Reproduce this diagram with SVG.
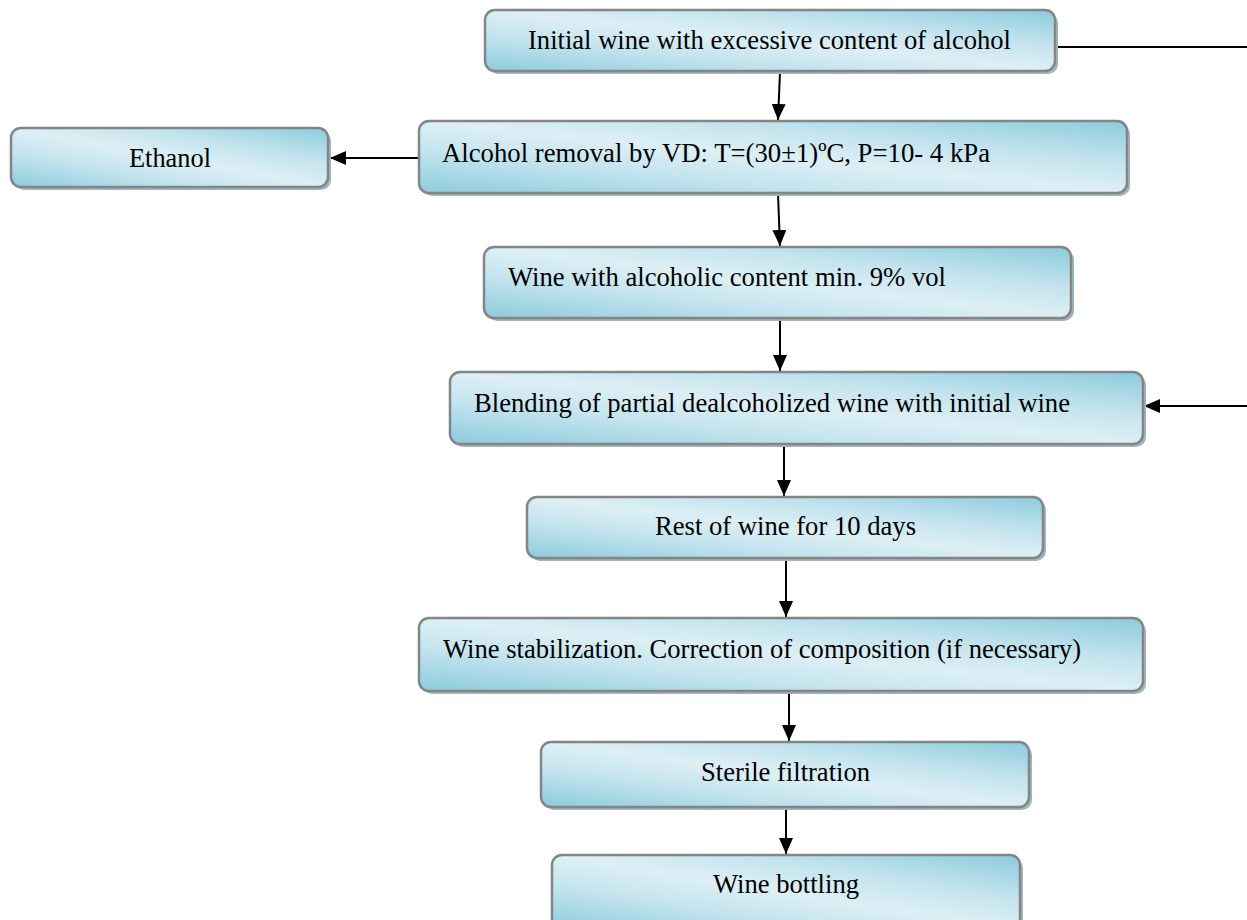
<svg xmlns="http://www.w3.org/2000/svg" width="1247" height="920" viewBox="0 0 1247 920">
<defs>
<linearGradient id="g" x1="1" y1="0" x2="0" y2="1">
<stop offset="0" stop-color="#8ccbdd"/>
<stop offset="0.3" stop-color="#c4e4ee"/>
<stop offset="0.5" stop-color="#ddeff5"/>
<stop offset="0.7" stop-color="#c4e4ee"/>
<stop offset="1" stop-color="#8ccbdd"/>
</linearGradient>
<marker id="ah" viewBox="0 0 16 14" refX="16" refY="7" markerWidth="16" markerHeight="14" markerUnits="userSpaceOnUse" orient="auto">
<path d="M0,0 L16,7 L0,14 Z" fill="#000"/>
</marker>
<style>
.sh{fill:#9db6c2;}
.bx{fill:url(#g);stroke:#858585;stroke-width:2.5;}
.t{font-family:"Liberation Serif","Times New Roman",serif;font-size:28px;fill:#000;}
.c{stroke:#000;stroke-width:2;fill:none;}
</style>
</defs>
<rect width="1247" height="920" fill="#fff"/>
<g id="connectors">
<line class="c" x1="1055" y1="47" x2="1247" y2="47"/>
<line class="c" x1="1247" y1="406" x2="1144" y2="406" marker-end="url(#ah)"/>
<line class="c" x1="780" y1="72" x2="778" y2="120" marker-end="url(#ah)"/>
<line class="c" x1="419" y1="158" x2="330" y2="158" marker-end="url(#ah)"/>
<line class="c" x1="778" y1="194" x2="780" y2="246" marker-end="url(#ah)"/>
<line class="c" x1="780" y1="319" x2="780" y2="371" marker-end="url(#ah)"/>
<line class="c" x1="784" y1="445" x2="784" y2="496" marker-end="url(#ah)"/>
<line class="c" x1="786" y1="559" x2="786" y2="617" marker-end="url(#ah)"/>
<line class="c" x1="789" y1="692" x2="789" y2="741" marker-end="url(#ah)"/>
<line class="c" x1="786" y1="808" x2="786" y2="854" marker-end="url(#ah)"/>
</g>
<g id="n1">
<rect class="sh" x="488" y="13" width="570" height="61" rx="10"/>
<rect class="bx" x="485" y="10" width="570" height="61" rx="10"/>
<text class="t" x="528" y="49" textLength="483" lengthAdjust="spacingAndGlyphs">Initial wine with excessive content of alcohol</text>
</g>
<g id="n2">
<rect class="sh" x="422" y="124" width="708" height="72" rx="10"/>
<rect class="bx" x="419" y="121" width="708" height="72" rx="10"/>
<text class="t" x="442" y="162" textLength="548" lengthAdjust="spacingAndGlyphs">Alcohol removal by VD: T=(30±1)ºC, P=10- 4 kPa</text>
</g>
<g id="n3">
<rect class="sh" x="14" y="131" width="317" height="59" rx="10"/>
<rect class="bx" x="11" y="128" width="317" height="59" rx="10"/>
<text class="t" x="129" y="167" textLength="82" lengthAdjust="spacingAndGlyphs">Ethanol</text>
</g>
<g id="n4">
<rect class="sh" x="487" y="250" width="587" height="71" rx="10"/>
<rect class="bx" x="484" y="247" width="587" height="71" rx="10"/>
<text class="t" x="508" y="286" textLength="438" lengthAdjust="spacingAndGlyphs">Wine with alcoholic content min. 9% vol</text>
</g>
<g id="n5">
<rect class="sh" x="453" y="375" width="693" height="72" rx="10"/>
<rect class="bx" x="450" y="372" width="693" height="72" rx="10"/>
<text class="t" x="474" y="412" textLength="596" lengthAdjust="spacingAndGlyphs">Blending of partial dealcoholized wine with initial wine</text>
</g>
<g id="n6">
<rect class="sh" x="530" y="500" width="516" height="61" rx="10"/>
<rect class="bx" x="527" y="497" width="516" height="61" rx="10"/>
<text class="t" x="655" y="535" textLength="261" lengthAdjust="spacingAndGlyphs">Rest of wine for 10 days</text>
</g>
<g id="n7">
<rect class="sh" x="422" y="621" width="724" height="73" rx="10"/>
<rect class="bx" x="419" y="618" width="724" height="73" rx="10"/>
<text class="t" x="443" y="658" textLength="638" lengthAdjust="spacingAndGlyphs">Wine stabilization. Correction of composition (if necessary)</text>
</g>
<g id="n8">
<rect class="sh" x="544" y="745" width="488" height="65" rx="10"/>
<rect class="bx" x="541" y="742" width="488" height="65" rx="10"/>
<text class="t" x="701" y="781" textLength="169" lengthAdjust="spacingAndGlyphs">Sterile filtration</text>
</g>
<g id="n9">
<rect class="sh" x="555" y="858" width="468" height="75" rx="10"/>
<rect class="bx" x="552" y="855" width="468" height="75" rx="10"/>
<text class="t" x="713" y="893" textLength="146" lengthAdjust="spacingAndGlyphs">Wine bottling</text>
</g>
</svg>
